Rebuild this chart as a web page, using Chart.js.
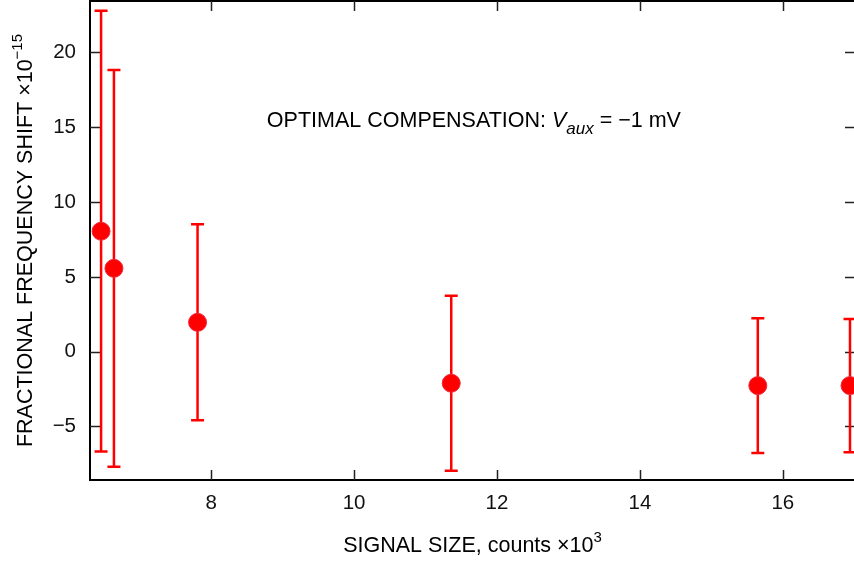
<!DOCTYPE html>
<html>
<head>
<meta charset="utf-8">
<title>Signal size</title>
<script src="https://cdn.jsdelivr.net/npm/chart.js@4.4.1/dist/chart.umd.min.js"></script>
<style>
	html, body { margin: 0; padding: 0; background: #fff; overflow: hidden; }
	#quadro { width: 862px; height: 561px; }
</style>
</head>
<body>
<div id="quadro"><canvas id="graficoDeslocamento" width="862" height="561"></canvas></div>
<script>
// signal size (counts x 10^3) and fractional frequency shift (x 10^-15)
var tamanhoSinal = [6.46, 6.64, 7.81, 11.36, 15.65, 16.94];
var deslocamento = [8.05, 5.57, 1.96, -2.11, -2.27, -2.27];
var incerteza = [14.73, 13.26, 6.55, 5.85, 4.50, 4.46];

var ticksX = [8, 10, 12, 14, 16];
var ticksY = [-5, 0, 5, 10, 15, 20];

var FONTE = '"Liberation Sans", Arial, Helvetica, sans-serif';
var VERMELHO = '#ff0000';

function rotuloNumero(v) {
	return v < 0 ? '\u2212' + Math.abs(v) : String(v);
}

// draws a row of text pieces (font / vertical shift) starting at x
function escreverPartes(ctx, partes, x, y) {
	partes.forEach(function(p) {
		ctx.font = p.fonte;
		ctx.fillText(p.texto, x, y + (p.dy || 0));
		x += ctx.measureText(p.texto).width + (p.folga || 0);
	});
}

function larguraPartes(ctx, partes) {
	var total = 0;
	partes.forEach(function(p) {
		ctx.font = p.fonte;
		total += ctx.measureText(p.texto).width + (p.folga || 0);
	});
	return total;
}

var molduraPlugin = {
	id: 'moldura',
	beforeDatasetsDraw: function(chart) {
		var ctx = chart.ctx, area = chart.chartArea;
		var sx = chart.scales.x, sy = chart.scales.y;
		ctx.save();

		// frame
		ctx.strokeStyle = '#000';
		ctx.lineWidth = 2;
		ctx.strokeRect(area.left, area.top, area.right - area.left, area.bottom - area.top);

		// inward ticks on all four sides
		ctx.lineWidth = 1.5;
		ctx.strokeStyle = '#222';
		ctx.beginPath();
		ticksX.forEach(function(v) {
			var px = Math.round(sx.getPixelForValue(v)) + 0.5;
			ctx.moveTo(px, area.bottom); ctx.lineTo(px, area.bottom - 10);
			ctx.moveTo(px, area.top); ctx.lineTo(px, area.top + 10);
		});
		ticksY.forEach(function(v) {
			var py = Math.round(sy.getPixelForValue(v)) + 0.5;
			ctx.moveTo(area.left, py); ctx.lineTo(area.left + 10, py);
			ctx.moveTo(area.right, py); ctx.lineTo(area.right - 10, py);
		});
		ctx.stroke();

		// error bars
		ctx.strokeStyle = VERMELHO;
		ctx.lineWidth = 2.5;
		ctx.beginPath();
		tamanhoSinal.forEach(function(x, i) {
			var px = sx.getPixelForValue(x);
			var alto = sy.getPixelForValue(deslocamento[i] + incerteza[i]);
			var baixo = sy.getPixelForValue(deslocamento[i] - incerteza[i]);
			ctx.moveTo(px, alto); ctx.lineTo(px, baixo);
			ctx.moveTo(px - 6.5, alto); ctx.lineTo(px + 6.5, alto);
			ctx.moveTo(px - 6.5, baixo); ctx.lineTo(px + 6.5, baixo);
		});
		ctx.stroke();
		ctx.restore();
	},
	afterDraw: function(chart) {
		var ctx = chart.ctx, area = chart.chartArea;
		var sx = chart.scales.x, sy = chart.scales.y;
		var normal = '21.5px ' + FONTE;
		var expoente = '15px ' + FONTE;
		ctx.save();
		ctx.fillStyle = '#000';
		ctx.textAlign = 'left';
		ctx.textBaseline = 'alphabetic';

		// x axis title
		var tituloX = [
			{ texto: 'SIGNAL SIZE, counts ', fonte: normal },
			{ texto: '\u00d7', fonte: normal },
			{ texto: '10', fonte: normal },
			{ texto: '3', fonte: expoente, dy: -10 }
		];
		var cx = (area.left + area.right) / 2;
		escreverPartes(ctx, tituloX, cx - larguraPartes(ctx, tituloX) / 2, 552);

		// y axis title
		var tituloY = [
			{ texto: 'FRACTIONAL FREQUENCY SHIFT ', fonte: normal },
			{ texto: '\u00d7', fonte: normal },
			{ texto: '10', fonte: normal },
			{ texto: '\u221215', fonte: expoente, dy: -10 }
		];
		var cy = (area.top + area.bottom) / 2;
		ctx.save();
		ctx.translate(32, cy);
		ctx.rotate(-Math.PI / 2);
		escreverPartes(ctx, tituloY, -larguraPartes(ctx, tituloY) / 2, 0);
		ctx.restore();

		// annotation inside the plot
		var nota = [
			{ texto: 'OPTIMAL COMPENSATION: ', fonte: normal },
			{ texto: 'V', fonte: 'italic 21.5px ' + FONTE },
			{ texto: 'aux', fonte: 'italic 17px ' + FONTE, dy: 7 },
			{ texto: ' = \u22121 mV', fonte: normal }
		];
		escreverPartes(ctx, nota, sx.getPixelForValue(8.78), sy.getPixelForValue(15));
		ctx.restore();
	}
};

var graficoDeslocamento = new Chart(document.getElementById('graficoDeslocamento').getContext('2d'), {
	type: 'scatter',
	data: {
		datasets: [{
			data: tamanhoSinal.map(function(x, i) { return { x: x, y: deslocamento[i] }; }),
			backgroundColor: VERMELHO,
			borderColor: '#ee2a3c',
			borderWidth: 1,
			pointRadius: 9,
			pointHoverRadius: 9,
			clip: false
		}]
	},
	options: {
		responsive: false,
		animation: false,
		events: [],
		layout: { autoPadding: false, padding: { top: 1, right: 7, left: 0, bottom: 0 } },
		plugins: {
			legend: { display: false },
			tooltip: { enabled: false }
		},
		scales: {
			x: {
				type: 'linear',
				min: 6.305,
				max: 17.01,
				grid: { display: false, drawTicks: false },
				border: { display: false },
				afterBuildTicks: function(scale) {
					scale.ticks = ticksX.map(function(v) { return { value: v }; });
				},
				afterFit: function(scale) {
					scale.height = 81;
					scale.paddingLeft = 0;
					scale.paddingRight = 0;
				},
				ticks: {
					color: '#111',
					font: { family: FONTE, size: 20.5 },
					padding: 11,
					maxRotation: 0,
					callback: rotuloNumero
				}
			},
			y: {
				type: 'linear',
				min: -8.58,
				max: 23.44,
				grid: { display: false, drawTicks: false },
				border: { display: false },
				afterBuildTicks: function(scale) {
					scale.ticks = ticksY.map(function(v) { return { value: v }; });
				},
				afterFit: function(scale) {
					scale.width = 90;
					scale.paddingTop = 0;
					scale.paddingBottom = 0;
				},
				ticks: {
					color: '#111',
					font: { family: FONTE, size: 20.5 },
					padding: 14,
					callback: rotuloNumero
				}
			}
		}
	},
	plugins: [molduraPlugin]
});
</script>
</body>
</html>
